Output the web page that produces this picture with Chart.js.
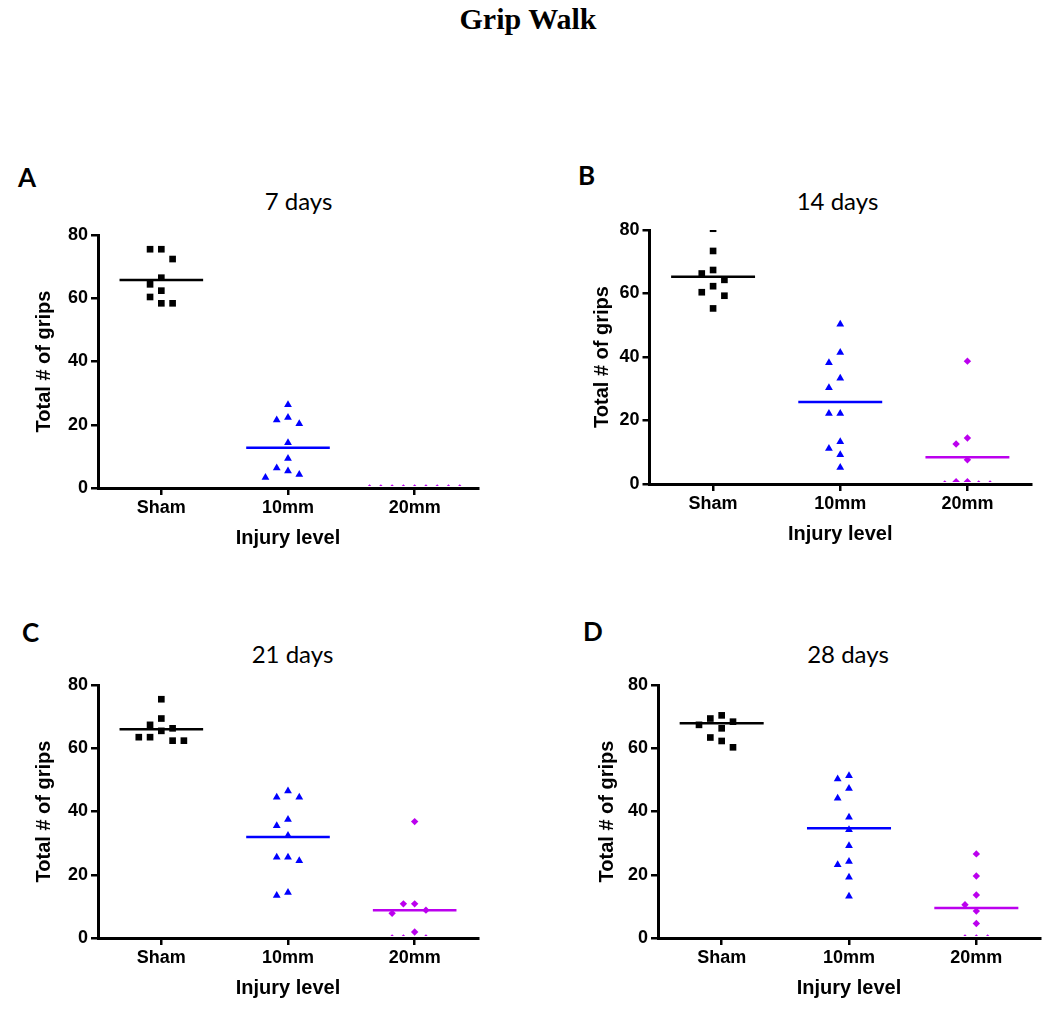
<!DOCTYPE html>
<html><head><meta charset="utf-8">
<script src="https://cdn.jsdelivr.net/npm/chart.js@4.4.1/dist/chart.umd.min.js"></script>
<style>
html,body{margin:0;padding:0;background:#fff;width:1050px;height:1011px;overflow:hidden;position:relative}
.txt{position:absolute;white-space:nowrap;line-height:1;color:#000}
#main{font-family:'Liberation Serif','Times New Roman',serif;font-weight:bold;font-size:30px;left:528px;top:4px;transform:translateX(-50%)}
.letter{font-family:Lato,sans-serif;font-weight:bold;font-size:26px}
.ptitle{font-family:Lato,sans-serif;font-size:24px;transform:translateX(-50%)}
canvas{position:absolute}
</style></head><body>
<div id="main" class="txt">Grip Walk</div>
<script>
// ---------- data ----------
const categories = ['Sham', '10mm', '20mm'];
const yTickValues = [0, 20, 40, 60, 80];
const panelLetters = ['A', 'B', 'C', 'D'];
const panelTitles = ['7 days', '14 days', '21 days', '28 days'];
const yAxisTitle = 'Total # of grips';
const xAxisTitle = 'Injury level';

// 7 days
const shamA = [75.5, 75.5, 72.4, 66.5, 64.4, 62.4, 60.4, 58.4, 58.4];
const tenA = [26.3, 22.3, 21.5, 20.3, 14.3, 9.3, 6.3, 5.4, 4.3, 3.3];
const twentyA = [0, 0, 0, 0, 0, 0, 0, 0, 0];
const centersA = [65.8, 12.7, 0];
// 14 days
const shamB = [80.4, 73.4, 67.4, 66.3, 64.3, 62.3, 60.4, 59.3, 55.3];
const tenB = [50.3, 41.4, 38.2, 33.3, 30.3, 22.2, 22.2, 13.3, 11.2, 9.2, 5.2];
const twentyB = [38.7, 14.5, 12.6, 7.6, 0.7, 0.7, 0, 0, 0];
const centersB = [65.3, 25.8, 8.4];
// 21 days
const shamC = [75.5, 69.4, 67.4, 66.3, 65.5, 63.5, 63.5, 62.4, 62.4];
const tenC = [46.5, 44.5, 44.5, 37.5, 35.5, 32.4, 25.5, 25.5, 24.4, 14.4, 13.4];
const twentyC = [36.8, 10.8, 10.8, 8.8, 7.8, 1.9, 0, 0, 0];
const centersC = [66.0, 31.9, 8.8];
// 28 days
const shamD = [70.4, 69.4, 68.4, 67.4, 66.3, 63.4, 62.3, 60.3];
const tenD = [51.3, 50.3, 47.3, 44.2, 38.2, 34.2, 29.2, 24.2, 23.2, 19.2, 13.2];
const twentyD = [26.6, 19.6, 13.6, 10.5, 8.5, 4.6, 0, 0, 0];
const centersD = [67.9, 34.7, 9.5];

const groupsByPanel = [
  [shamA, tenA, twentyA], [shamB, tenB, twentyB],
  [shamC, tenC, twentyC], [shamD, tenD, twentyD]
];
const centersByPanel = [centersA, centersB, centersC, centersD];

// ---------- layout / style ----------
const LS = "'Liberation Sans', Arial, sans-serif";
const groupColors = ['#000000', '#0000FF', '#BB00EE'];
const groupStyles = ['rect', 'triangle', 'rectRot'];
const groupRadius = [4.7, 4.5, 3.7];
const JITTER = 0.089;       // horizontal step between swarm columns (category units)
const COLLIDE = 3.5;        // values closer than this share no column
const HALF_LINE = 0.33;     // half width of the centre line (category units)
const SLOT_ORDER = [0, -1, 1, -2, 2, -3, 3, -4, 4, -5, 5];
const layouts = [
  {l: 98, r: 478, t: 235, b: 488, yTitleX: 44, letter: [18, 164], title: [298.5, 189]},
  {l: 649.5, r: 1031, t: 230, b: 484, yTitleX: 602, letter: [578, 162], title: [837.5, 189]},
  {l: 98, r: 478, t: 685, b: 938, yTitleX: 44, letter: [22, 619], title: [292.5, 642]},
  {l: 658, r: 1040, t: 685, b: 938, yTitleX: 607, letter: [583, 618], title: [848, 642]}
];

function swarm(values, center) {
  const placed = [];
  return values.map(v => {
    for (const s of SLOT_ORDER) {
      if (!placed.some(p => p.slot === s && Math.abs(p.v - v) < COLLIDE)) {
        placed.push({v, slot: s});
        return {x: center + s * JITTER, y: v};
      }
    }
    return {x: center, y: v};
  });
}

const clipArea = {left: false, top: 0, right: false, bottom: -2};

layouts.forEach((L, pi) => {
  const letter = document.createElement('div');
  letter.className = 'txt letter';
  letter.textContent = panelLetters[pi];
  letter.style.left = L.letter[0] + 'px';
  letter.style.top = L.letter[1] + 'px';
  document.body.appendChild(letter);

  const t = document.createElement('div');
  t.className = 'txt ptitle';
  t.textContent = panelTitles[pi];
  t.style.left = L.title[0] + 'px';
  t.style.top = L.title[1] + 'px';
  document.body.appendChild(t);

  const left = Math.round(L.l) - 98;
  const top = L.t - 20;
  const width = Math.round(L.r - left + 15);
  const height = Math.round(L.b - top + 72);
  const yW = L.l - left;
  const c = document.createElement('canvas');
  c.width = width; c.height = height;
  c.style.left = left + 'px'; c.style.top = top + 'px';
  c.style.width = width + 'px'; c.style.height = height + 'px';
  document.body.appendChild(c);

  const datasets = [];
  centersByPanel[pi].forEach((cv, gi) => {
    datasets.push({
      type: 'line',
      data: [{x: gi + 1 - HALF_LINE, y: cv}, {x: gi + 1 + HALF_LINE, y: cv}],
      borderColor: groupColors[gi], borderWidth: 2.5, pointRadius: 0,
      fill: false, clip: clipArea
    });
  });
  groupsByPanel[pi].forEach((vals, gi) => {
    datasets.push({
      type: 'scatter',
      data: swarm(vals, gi + 1),
      pointStyle: groupStyles[gi], pointRadius: groupRadius[gi],
      backgroundColor: groupColors[gi], borderColor: groupColors[gi], borderWidth: 0,
      clip: clipArea
    });
  });

  new Chart(c, {
    type: 'scatter',
    data: {datasets},
    options: {
      responsive: false, animation: false, devicePixelRatio: 1,
      layout: {padding: {left: 0, top: 20, right: 15, bottom: 10}},
      plugins: {legend: {display: false}, tooltip: {enabled: false}, title: {display: false}},
      scales: {
        x: {
          type: 'linear', min: 0.5, max: 3.5,
          afterBuildTicks: s => { s.ticks = categories.map((cName, i) => ({value: i + 1})); },
          afterFit: s => { s.height = 62; },
          ticks: {callback: (v, i) => categories[i], color: '#000', autoSkip: false, maxRotation: 0,
                  font: {family: LS, size: 18, weight: 'bold'}, padding: 2},
          grid: {drawOnChartArea: false, drawTicks: true, tickLength: 7, tickWidth: 2.5, lineWidth: 2.5, tickColor: '#000'},
          border: {display: true, color: '#000', width: 3},
          title: {display: true, text: xAxisTitle, color: '#000',
                  font: {family: LS, size: 20, weight: 'bold'}, padding: {top: 0, bottom: 0}}
        },
        y: {
          type: 'linear', min: 0, max: 80,
          afterBuildTicks: s => { s.ticks = yTickValues.map(v => ({value: v})); },
          afterFit: s => { s.width = yW; },
          ticks: {color: '#000', font: {family: LS, size: 18, weight: 'bold'}, padding: 3},
          grid: {drawOnChartArea: false, drawTicks: true, tickLength: 7, tickWidth: 2.5, lineWidth: 2.5, tickColor: '#000'},
          border: {display: true, color: '#000', width: 3},
          title: {display: true, text: yAxisTitle, color: '#000',
                  font: {family: LS, size: 20, weight: 'bold'}, padding: {top: L.yTitleX - left - 12, bottom: 0}}
        }
      }
    }
  });
});
</script>
</body></html>
